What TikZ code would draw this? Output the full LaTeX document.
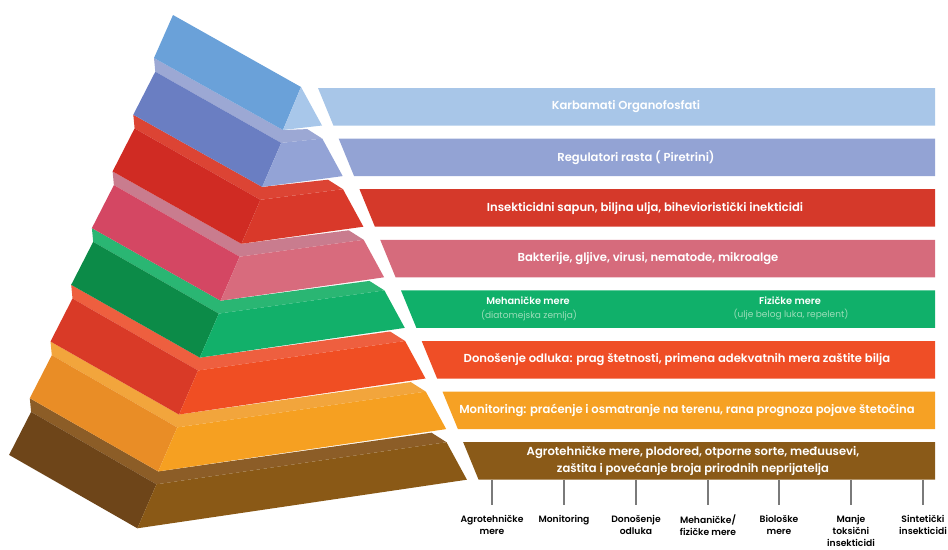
\documentclass[tikz,border=0pt]{standalone}
\usepackage{fontspec}
\setmainfont{Poppins}[BoldFont={Poppins SemiBold}]
\definecolor{cL1}{HTML}{6AA1D9}\definecolor{cF1}{HTML}{A8C7EA}
\definecolor{cL2}{HTML}{6A7EC2}\definecolor{cT2}{HTML}{9CA8D4}\definecolor{cF2}{HTML}{93A3D6}
\definecolor{cL3}{HTML}{D02B23}\definecolor{cT3}{HTML}{DC4434}\definecolor{cF3}{HTML}{D9392A}
\definecolor{cL4}{HTML}{D44763}\definecolor{cT4}{HTML}{C97C8E}\definecolor{cF4}{HTML}{D86B7D}
\definecolor{cL5}{HTML}{0C8B48}\definecolor{cT5}{HTML}{2AB673}\definecolor{cF5}{HTML}{12B06A}
\definecolor{cL6}{HTML}{D93A27}\definecolor{cT6}{HTML}{EE5F3F}\definecolor{cF6}{HTML}{F04E23}
\definecolor{cL7}{HTML}{E98D26}\definecolor{cT7}{HTML}{F2A53C}\definecolor{cF7}{HTML}{F6A021}
\definecolor{cL8}{HTML}{6E4519}\definecolor{cT8}{HTML}{8C5D27}\definecolor{cF8}{HTML}{8A5916}
\definecolor{cB1}{HTML}{A8C6E8}\definecolor{cB2}{HTML}{93A3D4}\definecolor{cB3}{HTML}{D5392A}
\definecolor{cB4}{HTML}{D66B7C}\definecolor{cB5}{HTML}{10B06A}\definecolor{cB6}{HTML}{EF4E26}
\definecolor{cB7}{HTML}{F6A124}\definecolor{cB8}{HTML}{8A5A18}
\definecolor{subgreen}{HTML}{9BDDB9}
\definecolor{tickgray}{HTML}{7A7A7A}
\tikzset{
  bandtext/.style={text=white, font=\bfseries\fontsize{11.6}{17}\selectfont, inner sep=0pt, align=center},
  greentitle/.style={text=white, font=\bfseries\fontsize{9.8}{10}\selectfont, inner sep=0pt},
  greensub/.style={text=subgreen, font=\fontsize{9}{10}\selectfont, inner sep=0pt},
  axlabel/.style={text=black, font=\bfseries\fontsize{9.2}{12}\selectfont, inner sep=0pt, align=center, anchor=north},
  tickline/.style={draw=tickgray, line width=1.2pt}
}
\begin{document}
\begin{tikzpicture}[x=1pt,y=-1pt]
\useasboundingbox (0,0) rectangle (948,549);
% ---------- pyramid, bottom slab first ----------
% slab 8
\fill[cT8] (31.1,411.9) -- (156.4,484.3) -- (446.5,442.2) -- (431.5,432.7) -- (158.2,471.4) -- (29.8,398.2) -- cycle;
\fill[cL8] (31.1,411.9) -- (9.1,454.9) -- (137.4,528.3) -- (156.4,484.3) -- cycle;
\fill[cF8] (156.4,484.3) -- (137.4,528.3) -- (466.9,479.7) -- (446.5,442.2) -- cycle;
% slab 7
\fill[cT7] (51.8,355.2) -- (177.2,427.4) -- (425.8,391.6) -- (410.8,382.1) -- (179,414.5) -- (50.5,341.5) -- cycle;
\fill[cL7] (51.8,355.2) -- (29.8,398.2) -- (158.2,471.4) -- (177.2,427.4) -- cycle;
\fill[cF7] (177.2,427.4) -- (158.2,471.4) -- (446.2,429.1) -- (425.8,391.6) -- cycle;
% slab 6
\fill[cT6] (72.5,298.5) -- (198,370.5) -- (405.1,341) -- (390.1,331.5) -- (199.8,357.6) -- (71.2,284.8) -- cycle;
\fill[cL6] (72.5,298.5) -- (50.5,341.5) -- (179,414.5) -- (198,370.5) -- cycle;
\fill[cF6] (198,370.5) -- (179,414.5) -- (425.5,378.5) -- (405.1,341) -- cycle;
% slab 5
\fill[cT5] (93.2,241.8) -- (218.8,313.6) -- (384.4,290.4) -- (369.4,280.9) -- (220.6,300.7) -- (91.9,228.1) -- cycle;
\fill[cL5] (93.2,241.8) -- (71.2,284.8) -- (199.8,357.6) -- (218.8,313.6) -- cycle;
\fill[cF5] (218.8,313.6) -- (199.8,357.6) -- (404.8,327.9) -- (384.4,290.4) -- cycle;
% slab 4
\fill[cT4] (113.9,185.1) -- (239.6,256.7) -- (363.7,239.8) -- (348.7,230.3) -- (241.4,243.8) -- (112.6,171.4) -- cycle;
\fill[cL4] (113.9,185.1) -- (91.9,228.1) -- (220.6,300.7) -- (239.6,256.7) -- cycle;
\fill[cF4] (239.6,256.7) -- (220.6,300.7) -- (384.1,277.3) -- (363.7,239.8) -- cycle;
% slab 3
\fill[cT3] (134.6,128.4) -- (260.4,199.8) -- (343,189.2) -- (328,179.7) -- (262.2,186.9) -- (133.3,114.7) -- cycle;
\fill[cL3] (134.6,128.4) -- (112.6,171.4) -- (241.4,243.8) -- (260.4,199.8) -- cycle;
\fill[cF3] (260.4,199.8) -- (241.4,243.8) -- (363.4,226.7) -- (343,189.2) -- cycle;
% slab 2
\fill[cT2] (155.3,71.7) -- (281.2,142.9) -- (322.3,138.6) -- (307.3,129.1) -- (283,130) -- (154,58) -- cycle;
\fill[cL2] (155.3,71.7) -- (133.3,114.7) -- (262.2,186.9) -- (281.2,142.9) -- cycle;
\fill[cF2] (281.2,142.9) -- (262.2,186.9) -- (342.7,176.1) -- (322.3,138.6) -- cycle;
% slab 1 (prism)
\fill[cL1] (173,15) -- (154,58) -- (283,130) -- (301,87) -- cycle;
\fill[cF1] (301,87) -- (283,130) -- (322,125.5) -- cycle;
% ---------- bands ----------
\fill[cB1] (318,88) -- (935,88) -- (935,125.5) -- (333.4,125.5) -- cycle;
\fill[cB2] (338.7,138.6) -- (935,138.6) -- (935,176.1) -- (354.1,176.1) -- cycle;
\fill[cB3] (359.5,189.2) -- (935,189.2) -- (935,226.7) -- (374.9,226.7) -- cycle;
\fill[cB4] (380.2,239.8) -- (935,239.8) -- (935,277.3) -- (395.6,277.3) -- cycle;
\fill[cB5] (401,290.4) -- (935,290.4) -- (935,327.9) -- (416.4,327.9) -- cycle;
\fill[cB6] (421.7,341) -- (935,341) -- (935,378.5) -- (437.1,378.5) -- cycle;
\fill[cB7] (442.5,391.6) -- (935,391.6) -- (935,429.1) -- (457.9,429.1) -- cycle;
\fill[cB8] (463.2,442.2) -- (935,442.2) -- (935,479.7) -- (478.6,479.7) -- cycle;
% ---------- band texts ----------
\node[bandtext] (t1) at (626,106.8) {Karbamati Organofosfati};
\node[bandtext] (t2) at (636,157.4) {Regulatori rasta ( Piretrini)};
\node[bandtext] (t3) at (645,208) {Insekticidni sapun, biljna ulja, bihevioristički inekticidi};
\node[bandtext] (t4) at (648,258.6) {Bakterije, gljive, virusi, nematode, mikroalge};
\node[greentitle] (t5a) at (528,301) {Mehaničke mere};
\node[greensub] (t5b) at (529,315) {(diatomejska zemlja)};
\node[greentitle] (t5c) at (790,301) {Fizičke mere};
\node[greensub] (t5d) at (791,315) {(ulje belog luka, repelent)};
\node[bandtext] (t6) at (677,359.8) {Donošenje odluka: prag štetnosti, primena adekvatnih mera zaštite bilja};
\node[bandtext] (t7) at (687,410.4) {Monitoring: praćenje i osmatranje na terenu, rana prognoza pojave štetočina};
\node[bandtext] (t8) at (693,461) {Agrotehničke mere, plodored, otporne sorte, međuusevi,\\zaštita i povećanje broja prirodnih neprijatelja};
% ---------- axis ticks ----------
\foreach \i/\x in {1/492,2/564,3/636,4/708,5/779,6/851,7/923}{
  \coordinate (tt\i) at (\x,479.7);
  \coordinate (tb\i) at (\x,505);
  \draw[tickline] (tt\i) -- (tb\i);
}
\node[axlabel] (l1) at (492,515) {Agrotehničke\\mere};
\node[axlabel] (l2) at (564,515) {Monitoring};
\node[axlabel] (l3) at (636,515) {Donošenje\\odluka};
\node[axlabel] (l4) at (708,515) {Mehaničke/\\fizičke mere};
\node[axlabel] (l5) at (779,515) {Biološke\\mere};
\node[axlabel] (l6) at (851,515) {Manje\\toksični\\insekticidi};
\node[axlabel] (l7) at (923,515) {Sintetički\\insekticidi};
\end{tikzpicture}
\end{document}
